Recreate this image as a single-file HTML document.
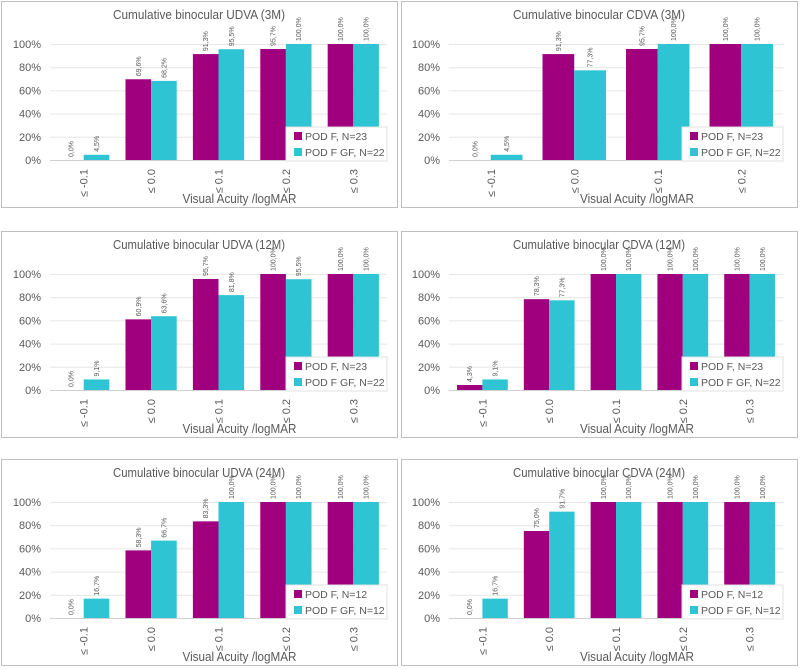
<!DOCTYPE html>
<html><head><meta charset="utf-8">
<style>
html,body{margin:0;padding:0;background:#fff;}
svg{display:block;font-family:"Liberation Sans",sans-serif;}
</style></head>
<body>
<svg id="chart" width="800" height="669" viewBox="0 0 800 669" xmlns="http://www.w3.org/2000/svg"></svg>
<script>
const titles = ["Cumulative binocular UDVA (3M)","Cumulative binocular CDVA (3M)","Cumulative binocular UDVA (12M)","Cumulative binocular CDVA (12M)","Cumulative binocular UDVA (24M)","Cumulative binocular CDVA (24M)"];
const cats5 = ["≤ -0.1","≤ 0.0","≤ 0.1","≤ 0.2","≤ 0.3"];
const cats4 = ["≤ -0.1","≤ 0.0","≤ 0.1","≤ 0.2"];
const podF_udva3 = [0,69.6,91.3,95.7,100];
const podGF_udva3 = [4.5,68.2,95.5,100,100];
const podF_cdva3 = [0,91.3,95.7,100];
const podGF_cdva3 = [4.5,77.3,100,100];
const podF_udva12 = [0,60.9,95.7,100,100];
const podGF_udva12 = [9.1,63.6,81.8,95.5,100];
const podF_cdva12 = [4.3,78.3,100,100,100];
const podGF_cdva12 = [9.1,77.3,100,100,100];
const podF_udva24 = [0,58.3,83.3,100,100];
const podGF_udva24 = [16.7,66.7,100,100,100];
const podF_cdva24 = [0,75,100,100,100];
const podGF_cdva24 = [16.7,91.7,100,100,100];
const legendF = ["POD F, N=23","POD F, N=23","POD F, N=23","POD F, N=23","POD F, N=12","POD F, N=12"];
const legendGF = ["POD F GF, N=22","POD F GF, N=22","POD F GF, N=22","POD F GF, N=22","POD F GF, N=12","POD F GF, N=12"];
const yTicks = [0,20,40,60,80,100];

const panels = [
 {cats:cats5,f:podF_udva3,g:podGF_udva3},
 {cats:cats4,f:podF_cdva3,g:podGF_cdva3},
 {cats:cats5,f:podF_udva12,g:podGF_udva12},
 {cats:cats5,f:podF_cdva12,g:podGF_cdva12},
 {cats:cats5,f:podF_udva24,g:podGF_udva24},
 {cats:cats5,f:podF_cdva24,g:podGF_cdva24}
];
const svg = document.getElementById('chart');
const NS = "http://www.w3.org/2000/svg";
function mk(tag, attrs, parent, text){
  const e = document.createElementNS(NS, tag);
  for (const k in attrs) e.setAttribute(k, attrs[k]);
  if (text !== undefined) e.textContent = text;
  parent.appendChild(e);
  return e;
}
const tops = [1,231,459];
const MAG = "#A0007E", CYN = "#2EC4D4";
panels.forEach((p, i) => {
  const col = i % 2, row = Math.floor(i / 2);
  const top = tops[row];
  const left = col === 0 ? 1 : 401;
  const right = col === 0 ? 397 : 797;
  const px0 = col === 0 ? 50 : 449, px1 = col === 0 ? 387 : 783;
  const y0 = top + 159, y100 = top + 43;
  const yS = v => y0 - (v / 100) * (y0 - y100);
  const g = mk('g', {}, svg);
  
  
  const border = mk('rect', {x:left+0.5, y:top+0.5, width:right-left, height:206, fill:'#fff', stroke:'#bfbfbf', 'stroke-width':1}, g);
  
  
  const t = mk('text', {x:(left+right)/2, y:top+18, 'text-anchor':'middle', 'font-size':13, fill:'#595959', textLength:172, lengthAdjust:'spacingAndGlyphs'}, g, titles[i]);
  
  
  yTicks.forEach(v => {
    const y = yS(v);
    const gl = mk('line', {x1:px0, x2:px1, y1:y+0.5, y2:y+0.5, stroke: v===0 ? '#d0d0d0' : '#e6e6e6', 'stroke-width':1}, g);
    
    
    const tl = mk('text', {x:px0-9, y:y+4, 'text-anchor':'end', 'font-size':11, fill:'#595959'}, g, v + '%');
    
    
  });
  const n = p.cats.length;
  const cw = (px1 - px0) / n;
  const bw = cw * 0.38;
  p.cats.forEach((c, k) => {
    const cx = px0 + cw * (k + 0.5);
    [[p.f[k], MAG, cx - bw, 'bar-pod-f'], [p.g[k], CYN, cx, 'bar-pod-f-gf']].forEach(([v, color, x, name]) => {
      const y = yS(v);
      if (v > 0) {
        const b = mk('rect', {x:x, y:y, width:bw, height:y0 - y, fill:color}, g);
        
        
      }
      const lx = x + bw/2 + 2.5, ly = y - 3;
      const dl = mk('text', {x:lx, y:ly, 'text-anchor':'start', 'font-size':7, fill:'#595959', transform:`rotate(-90 ${lx} ${ly})`}, g, v.toFixed(1).replace('.', ',') + '%');
      
      
    });
    const lx = cx + 4, ly = top + 168;
    const cl = mk('text', {x:lx, y:ly, 'text-anchor':'end', 'font-size':11, fill:'#595959', transform:`rotate(-90 ${lx} ${ly})`}, g, c);
    
    
  });
  const at = mk('text', {x:(px0+px1)/2 + 21, y:top+202, 'text-anchor':'middle', 'font-size':13, fill:'#595959', textLength:114, lengthAdjust:'spacingAndGlyphs'}, g, 'Visual Acuity /logMAR');
  
  
  const lg = mk('g', {}, g);
  
  
  const lx0 = px1 - 101, ly0 = top + 126;
  mk('rect', {x:lx0, y:ly0, width:101, height:34, fill:'#fff', stroke:'#e0e0e0', 'stroke-width':1}, lg);
  [[legendF[i], MAG, 0], [legendGF[i], CYN, 1]].forEach(([txt, color, r]) => {
    const sq = mk('rect', {x:lx0+8, y:ly0+5+r*16, width:8, height:8, fill:color}, lg);
    
    
    const lt = mk('text', {x:lx0+19, y:ly0+13+r*16, 'font-size':10.5, fill:'#595959'}, lg, txt);
    
    
  });
});
</script>
</body></html>
